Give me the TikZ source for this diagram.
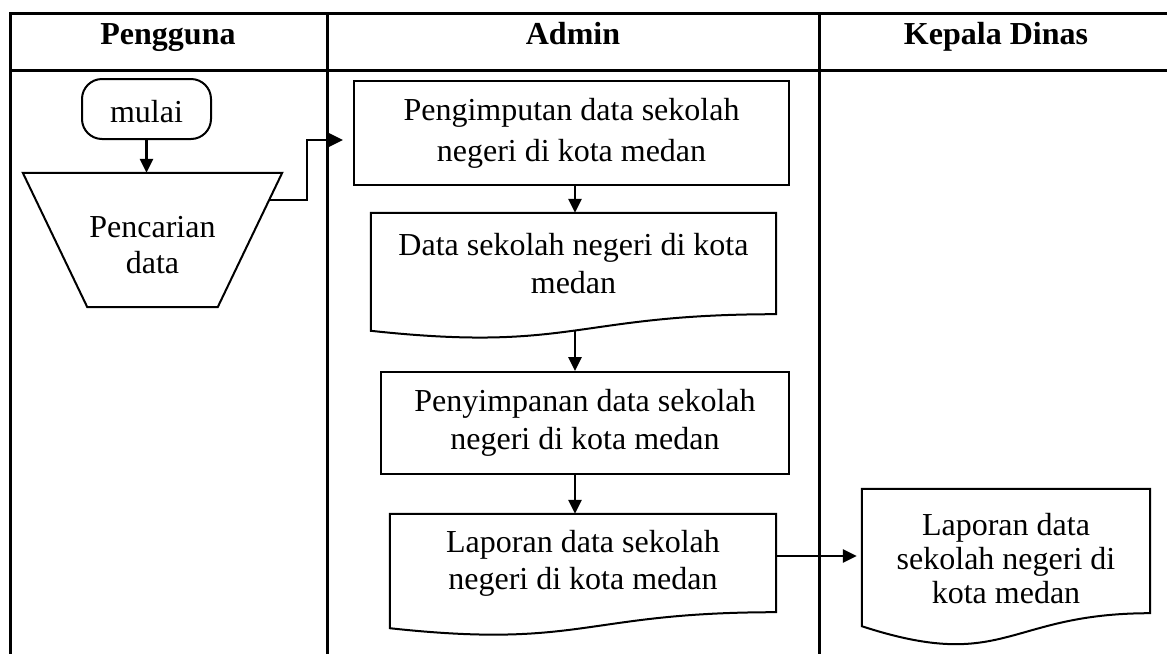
\documentclass[tikz,border=0pt]{standalone}
\usepackage{fontspec}
\setmainfont{Liberation Serif}
\usetikzlibrary{arrows.meta,calc}
\newcommand\docoutline[3]{%
  \draw[shp] (#1.north west) -- (#1.north east) -- (#1.south east)
    .. controls (#1.south) and ($(#1.south)+(0,#2)$) .. ($(#1.south west)+(0,#3)$) -- cycle;}
\begin{document}
\begin{tikzpicture}[x=1pt,y=-1pt,
  frame/.style={line width=3pt},
  shp/.style={line width=2pt},
  arr/.style={line width=2.6pt,-{Triangle[length=14pt,width=13pt]}},
  txt/.style={font=\fontsize{32}{38}\selectfont,align=center,inner sep=0pt},
  hdr/.style={font=\fontsize{32}{38}\selectfont\bfseries,inner sep=0pt,anchor=base},
  procbox/.style={draw,shp,inner sep=0pt,txt},
  docbox/.style={inner sep=0pt,txt}]
\useasboundingbox (0,0) rectangle (1167,654);
% frame
\draw[frame] (1167,13) -- (10,13) -- (10,654);
\draw[frame] (10,70) -- (1167,70);
\draw[frame] (327,13) -- (327,654);
\draw[frame] (819,13) -- (819,654);
% headers
\node[hdr] (h1) at (168,44) {Pengguna};
\node[hdr] (h2) at (573,44) {Admin};
\node[hdr] (h3) at (996,44) {Kepala Dinas};
% mulai
\node[draw,shp,rounded corners=20pt,minimum width=129pt,minimum height=60pt,txt] (mulai) at (146.5,109) {\raisebox{-13pt}[0pt][0pt]{mulai}};
% pencarian (manual operation)
\node[minimum width=259pt,minimum height=134pt,inner sep=0pt] (cari) at (152.5,240) {};
\draw[shp] (cari.north west) -- (cari.north east) -- ($(cari.south east)+(-64.5,0)$)
  -- ($(cari.south west)+(64.5,0)$) -- cycle;
\node[txt,font=\fontsize{32}{36}\selectfont] (caritxt) at (152.5,245) {Pencarian\\data};
\coordinate (tside) at (269,200);
\coordinate (bend) at (307,140);
% admin
\node[procbox,minimum width=435pt,minimum height=104pt,font=\fontsize{32}{41}\selectfont] (b1) at (571.5,133) {Pengimputan data sekolah\\negeri di kota medan};
\node[docbox,minimum width=405pt,minimum height=101pt] (d2) at (573.5,263.5) {Data sekolah negeri di kota\\medan};
\docoutline{d2}{38.5}{16.6}
\node[procbox,minimum width=408pt,minimum height=102pt,font=\fontsize{32}{37.5}\selectfont] (b3) at (585,423) {Penyimpanan data sekolah\\negeri di kota medan};
\node[docbox,minimum width=386pt,minimum height=98pt,font=\fontsize{32}{37}\selectfont] (d4) at (583,563) {Laporan data sekolah\\negeri di kota medan};
\docoutline{d4}{37}{16}
% kepala dinas
\node[docbox,minimum width=288pt,minimum height=124pt] (d5) at (1006,551) {};
\docoutline{d5}{60}{13}
\node[txt,font=\fontsize{32}{34}\selectfont] (d5txt) at (1006,559) {Laporan data\\sekolah negeri di\\kota medan};
% connectors
\coordinate (ax) at (575,0);
\coordinate (d2b) at (575,331);
\coordinate (a4) at (776,556);
\draw[arr] (mulai.south) -- (mulai.south |- cari.north);
\draw[arr,shorten >=10pt] (tside) -| (bend) -- (bend -| b1.west);
\draw[arr] (b1.south -| ax) -- (d2.north -| ax);
\draw[arr] (d2b) -- (b3.north -| ax);
\draw[arr] (b3.south -| ax) -- (d4.north -| ax);
\draw[arr,shorten >=5pt] (a4) -- (a4 -| d5.west);
\end{tikzpicture}
\end{document}
